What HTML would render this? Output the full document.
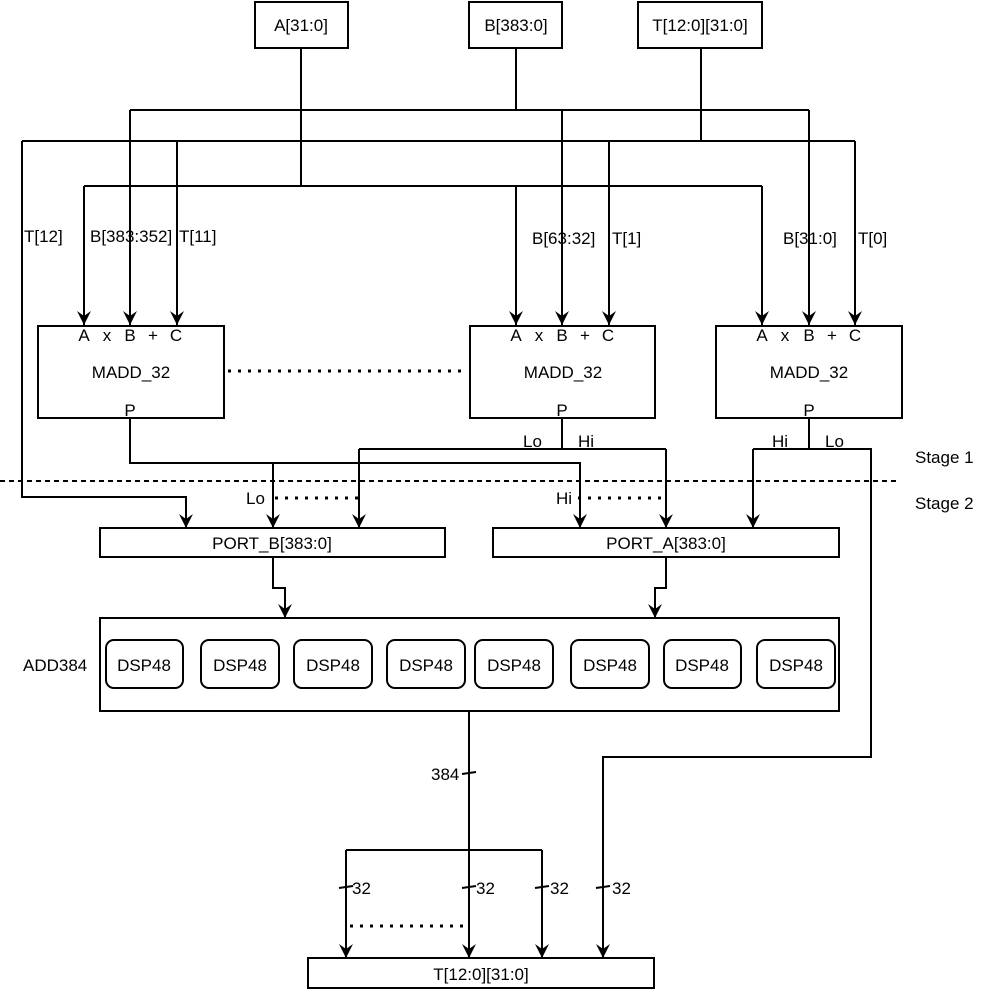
<!DOCTYPE html>
<html><head><meta charset="utf-8"><style>
html,body{margin:0;padding:0;background:#fff}
svg{display:block}
text{font-family:"Liberation Sans",Arial,sans-serif;font-size:17px;fill:#000}
</style></head><body>
<svg width="996" height="994" viewBox="0 0 996 994" xmlns="http://www.w3.org/2000/svg">
<defs>
<marker id="ar" markerWidth="16" markerHeight="16" refX="8" refY="15" orient="0" markerUnits="userSpaceOnUse" viewBox="0 0 16 16">
<path d="M1,1 L8,6 L15,1 L8,15 Z" fill="#000"/>
</marker>
</defs>
<g fill="none" stroke="#000" stroke-width="2">
<rect x="255" y="2" width="93" height="46"/>
<rect x="469" y="2" width="93" height="46"/>
<rect x="638" y="2" width="124" height="46"/>
<path d="M301,48 V186"/>
<path d="M516,48 V110"/>
<path d="M701,48 V141"/>
<path d="M130,110 H809"/>
<path d="M22,141 H855"/>
<path d="M84,186 H762"/>
<path d="M84,186 V325" marker-end="url(#ar)"/>
<path d="M130,110 V325" marker-end="url(#ar)"/>
<path d="M177,141 V325" marker-end="url(#ar)"/>
<path d="M516,186 V325" marker-end="url(#ar)"/>
<path d="M562,110 V325" marker-end="url(#ar)"/>
<path d="M609,141 V325" marker-end="url(#ar)"/>
<path d="M762,186 V325" marker-end="url(#ar)"/>
<path d="M809,110 V325" marker-end="url(#ar)"/>
<path d="M855,141 V325" marker-end="url(#ar)"/>
<path d="M22,141 V497 H186 V528" marker-end="url(#ar)"/>
<rect x="38" y="326" width="186" height="92"/>
<rect x="470" y="326" width="185" height="92"/>
<rect x="716" y="326" width="186" height="92"/>
<path d="M130,418 V463 H580 V528" marker-end="url(#ar)"/>
<path d="M273,463 V528" marker-end="url(#ar)"/>
<path d="M562,418 V449"/>
<path d="M359,449 H666"/>
<path d="M359,449 V528" marker-end="url(#ar)"/>
<path d="M666,449 V528" marker-end="url(#ar)"/>
<path d="M809,418 V449"/>
<path d="M753,449 H871 V757 H603 V958" marker-end="url(#ar)"/>
<path d="M753,449 V528" marker-end="url(#ar)"/>
<rect x="100" y="528" width="345" height="29"/>
<rect x="493" y="528" width="346" height="29"/>
<path d="M273,557 V588 H285 V618" marker-end="url(#ar)"/>
<path d="M666,557 V588 H655 V618" marker-end="url(#ar)"/>
<rect x="100" y="618" width="739" height="93"/>
<rect x="106" y="640" width="77" height="48" rx="8"/>
<rect x="201" y="640" width="78" height="48" rx="8"/>
<rect x="294" y="640" width="78" height="48" rx="8"/>
<rect x="387" y="640" width="78" height="48" rx="8"/>
<rect x="475" y="640" width="78" height="48" rx="8"/>
<rect x="571" y="640" width="78" height="48" rx="8"/>
<rect x="664" y="640" width="77" height="48" rx="8"/>
<rect x="757" y="640" width="78" height="48" rx="8"/>
<path d="M469,711 V958" marker-end="url(#ar)"/>
<path d="M346,850 H542"/>
<path d="M346,850 V958" marker-end="url(#ar)"/>
<path d="M542,850 V958" marker-end="url(#ar)"/>
<rect x="308" y="958" width="346" height="30"/>
<path d="M462,774 L476,772"/>
<path d="M339,888 L353,886"/>
<path d="M462,888 L476,886"/>
<path d="M535,888 L549,886"/>
<path d="M596,888 L610,886"/>
</g>
<g fill="none" stroke="#000" stroke-width="3" stroke-dasharray="3,7">
<path d="M228,371 H465"/>
<path d="M275,498 H359"/>
<path d="M578,498 H666"/>
<path d="M350,926 H466"/>
</g>
<path d="M0,481 H900" stroke="#000" stroke-width="2" stroke-dasharray="5,4" fill="none"/>
<g text-anchor="middle">
<text x="301" y="31">A[31:0]</text>
<text x="516" y="31">B[383:0]</text>
<text x="700" y="31">T[12:0][31:0]</text>
<text x="84" y="341">A</text><text x="107" y="341">x</text><text x="130" y="341">B</text><text x="153" y="341">+</text><text x="176" y="341">C</text>
<text x="516" y="341">A</text><text x="539" y="341">x</text><text x="562" y="341">B</text><text x="585" y="341">+</text><text x="608" y="341">C</text>
<text x="762" y="341">A</text><text x="785" y="341">x</text><text x="809" y="341">B</text><text x="832" y="341">+</text><text x="855" y="341">C</text>
<text x="131" y="378">MADD_32</text>
<text x="563" y="378">MADD_32</text>
<text x="809" y="378">MADD_32</text>
<text x="130" y="416">P</text>
<text x="562" y="416">P</text>
<text x="809" y="416">P</text>
<text x="272" y="549">PORT_B[383:0]</text>
<text x="666" y="549">PORT_A[383:0]</text>
<text x="144" y="671">DSP48</text>
<text x="240" y="671">DSP48</text>
<text x="333" y="671">DSP48</text>
<text x="426" y="671">DSP48</text>
<text x="514" y="671">DSP48</text>
<text x="610" y="671">DSP48</text>
<text x="702" y="671">DSP48</text>
<text x="796" y="671">DSP48</text>
<text x="481" y="980">T[12:0][31:0]</text>
</g>
<g>
<text x="24" y="242">T[12]</text>
<text x="90" y="242">B[383:352]</text>
<text x="179" y="242">T[11]</text>
<text x="532" y="244">B[63:32]</text>
<text x="612" y="244">T[1]</text>
<text x="783" y="244">B[31:0]</text>
<text x="858" y="244">T[0]</text>
<text x="523" y="447">Lo</text>
<text x="578" y="447">Hi</text>
<text x="772" y="447">Hi</text>
<text x="825" y="447">Lo</text>
<text x="915" y="463">Stage 1</text>
<text x="915" y="509">Stage 2</text>
<text x="246" y="504">Lo</text>
<text x="556" y="504">Hi</text>
<text x="23" y="671">ADD384</text>
<text x="431" y="780">384</text>
<text x="352" y="894">32</text>
<text x="476" y="894">32</text>
<text x="550" y="894">32</text>
<text x="612" y="894">32</text>
</g>
</svg>
</body></html>
